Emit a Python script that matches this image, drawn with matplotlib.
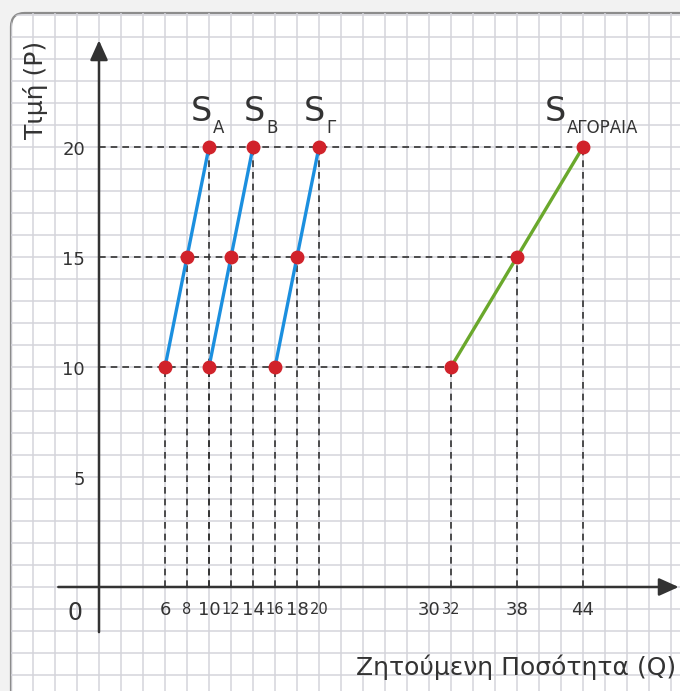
import numpy as np
import matplotlib.pyplot as plt
from matplotlib.patches import FancyBboxPatch

# data: supply schedules (price -> quantity)
prices = [10, 15, 20]
q_A = [6, 8, 10]
q_B = [10, 12, 14]
q_G = [16, 18, 20]
q_market = [32, 38, 44]

x_ticks = [6, 8, 10, 12, 14, 16, 18, 20, 30, 32, 38, 44]
x_small = [8, 12, 16, 20, 32]
y_ticks = [5, 10, 15, 20]

W, H = 680, 691
DARK = "#333333"
BLUE = "#1b8fdf"
GREEN = "#6aa82c"
RED = "#d1222a"

plt.rcParams["font.family"] = ["DejaVu Sans"]

fig = plt.figure(figsize=(W / 100, H / 100), dpi=100, facecolor="#f2f2f2")
ax = fig.add_axes([0, 0, 1, 1])
# 11 px per unit of Q, 22 px per unit of P, origin at pixel (99, 587)
ax.set_xlim(-99 / 11, (W - 99) / 11)
ax.set_ylim(-(H - 587) / 22, 587 / 22)
ax.axis("off")


def px(x, y):
    # figure pixel (from top-left) -> axes fraction
    return x / W, 1 - y / H


# grid paper panel
panel = FancyBboxPatch((11 / W, -0.1), 1.2, (H - 13) / H + 0.1,
                       boxstyle="round,pad=0,rounding_size=0.02",
                       transform=ax.transAxes, facecolor="white",
                       edgecolor="#8c8c8c", lw=1.6, zorder=0)
ax.add_patch(panel)
y0, y1 = ax.get_ylim()
x0, x1 = ax.get_xlim()
vl = ax.vlines(np.arange(-8, 54, 2), y0, y1, color="#d4d4db", lw=1.1, zorder=1)
hl = ax.hlines(np.arange(-4, 27, 1), x0, x1, color="#d4d4db", lw=1.1, zorder=1)
vl.set_clip_path(panel)
hl.set_clip_path(panel)

# axes with arrows
arrow = dict(arrowstyle="-|>,head_length=0.6,head_width=0.27", color=DARK,
             lw=1.8, mutation_scale=20, shrinkA=0, shrinkB=0)
ax.annotate("", xy=(0, 24.85), xytext=(0, -2.05), arrowprops=arrow, zorder=5)
ax.annotate("", xy=(52.7, 0), xytext=(-3.7, 0), arrowprops=arrow, zorder=5)

# dashed guide lines
dash = dict(color=DARK, lw=1.2, dashes=(4, 3), zorder=2)
for p, q in zip(prices, q_market):
    ax.plot([0, q], [p, p], **dash)
for qs in [q_A, q_B, q_G, q_market]:
    for p, q in zip(prices, qs):
        ax.plot([q, q], [0, p], **dash)

# supply curves
for qs, col in [(q_A, BLUE), (q_B, BLUE), (q_G, BLUE), (q_market, GREEN)]:
    ax.plot(qs, prices, color=col, lw=2.4, zorder=3)
    ax.plot(qs, prices, "o", color=RED, ms=9, mec=RED, zorder=4)

# curve labels
labels = [(q_A, "A", 3), (q_B, "B", 12), (q_G, "Γ", 6), (q_market, "ΑΓΟΡΑΙΑ", -17)]
for qs, sub, dx in labels:
    ax.annotate("S", xy=(qs[-1], prices[-1]), xytext=(dx, 26),
                textcoords="offset pixels", ha="right", va="baseline",
                fontsize=24, color=DARK)
    ax.annotate(sub, xy=(qs[-1], prices[-1]), xytext=(dx + 1, 14),
                textcoords="offset pixels", ha="left", va="baseline",
                fontsize=12, color=DARK)

# tick labels
for q in x_ticks:
    ax.annotate(str(q), xy=(q, 0), xytext=(0, -23), textcoords="offset pixels",
                ha="center", va="center", color=DARK,
                fontsize=10.5 if q in x_small else 13)
for p in y_ticks:
    ax.annotate(str(p), xy=(0, p), xytext=(-14, -3), textcoords="offset pixels",
                ha="right", va="center", color=DARK, fontsize=13)
ax.annotate("0", xy=(0, 0), xytext=(-24, -26), textcoords="offset pixels",
            ha="center", va="center", color=DARK, fontsize=17)

# axis titles
ax.text(*px(36, 90), "Τιμή (P)", transform=ax.transAxes, rotation=90,
        ha="center", va="center", fontsize=18, color=DARK)
ax.text(*px(676, 667), "Ζητούμενη Ποσότητα (Q)", transform=ax.transAxes,
        ha="right", va="center", fontsize=18, color=DARK)

fig.savefig("out.png", dpi=100, facecolor=fig.get_facecolor())
